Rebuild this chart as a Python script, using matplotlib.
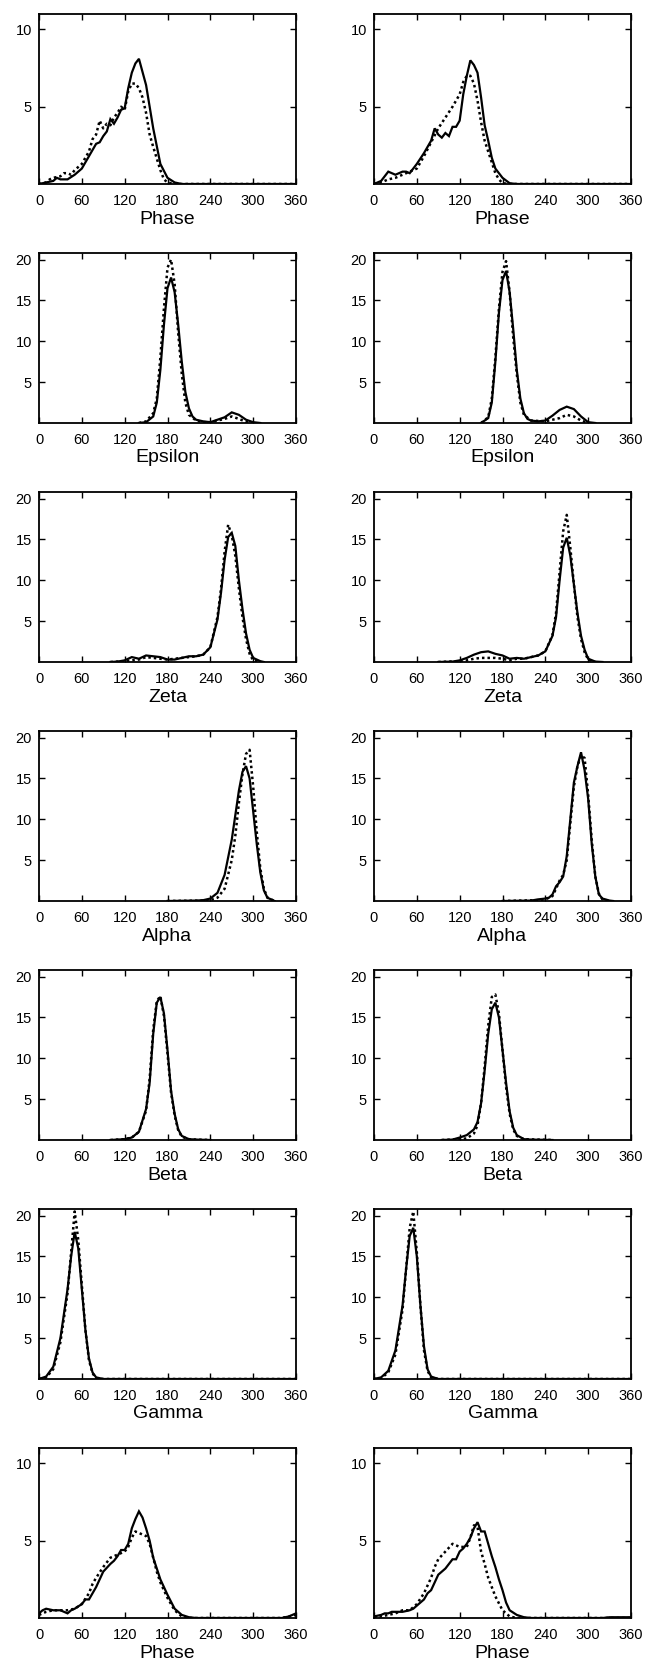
import matplotlib
matplotlib.use('Agg')
import matplotlib.pyplot as plt
import numpy as np

plt.rcParams['font.family'] = ['Liberation Sans', 'DejaVu Sans']

# ---- Row 1: Phase (left / right) ----
ph1_x_s = [0, 10, 20, 25, 30, 40, 50, 60, 70, 80, 85, 90, 95, 100, 105, 110, 115, 120, 125, 130, 135, 140, 150, 160, 170, 180, 190, 200, 360]
ph1_y_s = [0, 0.1, 0.2, 0.4, 0.3, 0.3, 0.6, 1.0, 1.8, 2.6, 2.7, 3.1, 3.4, 4.2, 3.9, 4.3, 4.8, 4.9, 6.2, 7.2, 7.8, 8.1, 6.4, 3.6, 1.3, 0.4, 0.1, 0, 0]
ph1_x_d = [0, 10, 15, 20, 30, 35, 40, 45, 50, 60, 70, 75, 80, 85, 90, 95, 100, 105, 110, 115, 120, 125, 130, 135, 140, 145, 150, 155, 160, 170, 175, 180, 190, 360]
ph1_y_d = [0, 0.1, 0.3, 0.4, 0.5, 0.7, 0.7, 0.6, 0.9, 1.3, 2.1, 2.9, 3.2, 4.1, 3.6, 3.9, 3.8, 4.3, 4.6, 5.0, 4.8, 6.0, 6.5, 6.5, 6.2, 5.6, 4.6, 3.2, 2.4, 0.9, 0.3, 0.1, 0, 0]

ph2_x_s = [0, 10, 20, 30, 35, 40, 45, 50, 60, 70, 75, 80, 85, 90, 95, 100, 105, 110, 115, 120, 125, 130, 135, 140, 145, 150, 155, 160, 165, 170, 180, 190, 200, 360]
ph2_y_s = [0, 0.2, 0.8, 0.6, 0.7, 0.8, 0.8, 0.7, 1.3, 2.0, 2.4, 2.8, 3.6, 3.2, 3.0, 3.3, 3.1, 3.7, 3.7, 4.1, 5.8, 7.0, 8.0, 7.7, 7.2, 5.6, 3.8, 2.8, 1.7, 1.0, 0.4, 0.05, 0, 0]
ph2_x_d = [0, 10, 20, 30, 40, 50, 60, 70, 80, 90, 100, 110, 120, 125, 130, 135, 140, 145, 150, 155, 160, 170, 175, 180, 190, 360]
ph2_y_d = [0, 0.1, 0.3, 0.4, 0.6, 0.8, 1.0, 1.8, 2.7, 3.6, 4.3, 5.0, 5.8, 6.6, 7.0, 7.0, 6.5, 5.4, 4.0, 2.8, 2.1, 0.7, 0.3, 0.05, 0, 0]

# ---- Row 2: Epsilon ----
ep1_x_s = [140, 150, 160, 165, 170, 175, 180, 185, 190, 195, 200, 205, 210, 215, 220, 230, 240, 250, 260, 270, 280, 290, 300, 310]
ep1_y_s = [0, 0.1, 0.8, 2.5, 6.5, 12, 16.5, 17.8, 16, 12, 7.5, 3.8, 1.8, 0.8, 0.4, 0.2, 0.1, 0.4, 0.7, 1.3, 1.0, 0.4, 0.1, 0]
ep1_x_d = [140, 150, 160, 165, 170, 175, 180, 185, 190, 195, 200, 205, 210, 220, 230, 240, 250, 260, 270, 280, 290, 300]
ep1_y_d = [0, 0.2, 1.2, 3, 8, 14, 19, 20, 17, 11, 6, 2.5, 1.0, 0.3, 0.1, 0.1, 0.3, 0.5, 0.8, 0.5, 0.15, 0]

ep2_x_s = [150, 160, 165, 170, 175, 180, 185, 190, 195, 200, 205, 210, 215, 220, 230, 240, 250, 260, 270, 280, 290, 300, 310]
ep2_y_s = [0, 0.6, 2.5, 7.5, 13.5, 17.5, 18.6, 16, 11.5, 6.5, 3, 1.2, 0.5, 0.3, 0.2, 0.3, 0.9, 1.6, 2.0, 1.7, 0.8, 0.1, 0]
ep2_x_d = [150, 160, 165, 170, 175, 180, 185, 190, 195, 200, 205, 210, 220, 240, 250, 260, 270, 280, 290, 300]
ep2_y_d = [0, 0.7, 3, 8, 14, 18.5, 19.8, 16, 10.5, 6, 2.5, 1.0, 0.3, 0.2, 0.4, 0.6, 1.0, 0.8, 0.3, 0]

# ---- Row 3: Zeta ----
ze1_x_s = [100, 110, 120, 130, 140, 150, 160, 170, 180, 190, 200, 210, 220, 230, 240, 250, 255, 260, 265, 270, 275, 280, 285, 290, 295, 300, 310, 315]
ze1_y_s = [0, 0.05, 0.2, 0.6, 0.4, 0.8, 0.7, 0.6, 0.3, 0.3, 0.5, 0.7, 0.7, 0.9, 1.8, 5.2, 8.5, 12.5, 15.3, 15.8, 14.2, 10, 6.5, 3.5, 1.5, 0.5, 0.1, 0]
ze1_x_d = [100, 120, 130, 140, 150, 160, 170, 180, 190, 200, 210, 220, 230, 240, 250, 255, 260, 265, 270, 275, 280, 285, 290, 295, 300, 310]
ze1_y_d = [0, 0.1, 0.2, 0.3, 0.6, 0.5, 0.4, 0.3, 0.4, 0.5, 0.6, 0.7, 0.9, 1.8, 5.5, 9, 13.5, 16.8, 15.5, 13, 9, 5.5, 2.8, 1.0, 0.2, 0]

ze2_x_s = [90, 110, 120, 130, 140, 150, 160, 170, 180, 190, 200, 210, 220, 230, 240, 250, 255, 260, 265, 270, 275, 280, 285, 290, 295, 300, 310, 320]
ze2_y_s = [0, 0.05, 0.2, 0.5, 0.9, 1.2, 1.3, 1.0, 0.8, 0.4, 0.5, 0.4, 0.6, 0.8, 1.3, 3.2, 5.5, 10, 14, 15.2, 13, 9.5, 6, 3.2, 1.5, 0.4, 0.05, 0]
ze2_x_d = [90, 120, 130, 140, 150, 160, 170, 180, 190, 200, 210, 220, 230, 240, 250, 255, 260, 265, 270, 275, 280, 285, 290, 295, 300, 310]
ze2_y_d = [0, 0.1, 0.2, 0.4, 0.5, 0.5, 0.5, 0.4, 0.2, 0.4, 0.4, 0.6, 0.8, 1.3, 3.3, 6, 11, 16, 18, 14, 9.5, 5.5, 2.8, 1.2, 0.3, 0]

# ---- Row 4: Alpha ----
al1_x_s = [180, 220, 230, 240, 250, 260, 270, 275, 280, 285, 290, 295, 300, 305, 310, 315, 320, 330]
al1_y_s = [0, 0.05, 0.1, 0.3, 1.0, 3.2, 7.5, 10.5, 13.5, 15.8, 16.5, 15, 11, 7, 3.5, 1.3, 0.4, 0]
al1_x_d = [180, 230, 240, 250, 260, 270, 275, 280, 285, 290, 295, 300, 305, 310, 315, 320, 330]
al1_y_d = [0, 0.05, 0.1, 0.4, 1.5, 5, 8, 12, 15.5, 18, 18.5, 14, 8.5, 4, 1.5, 0.4, 0]

al2_x_s = [180, 220, 230, 240, 245, 250, 255, 260, 265, 270, 275, 280, 285, 290, 295, 300, 305, 310, 315, 320, 330, 335]
al2_y_s = [0, 0.05, 0.2, 0.3, 0.4, 0.8, 1.8, 2.3, 3.0, 5.5, 10, 14.5, 16.5, 18.2, 16, 12.5, 7, 3, 0.8, 0.3, 0.05, 0]
al2_x_d = [180, 230, 240, 250, 255, 260, 265, 270, 275, 280, 285, 290, 295, 300, 305, 310, 315, 320, 330]
al2_y_d = [0, 0.1, 0.2, 0.6, 1.5, 2.5, 3.2, 5, 9.5, 14, 16.5, 17.8, 17.5, 13, 7.5, 3, 0.9, 0.2, 0]

# ---- Row 5: Beta ----
be1_x_s = [100, 110, 120, 130, 140, 150, 155, 160, 165, 170, 175, 180, 185, 190, 195, 200, 210, 220, 240]
be1_y_s = [0, 0.05, 0.1, 0.3, 1.0, 3.8, 7, 13, 16.8, 17.5, 15.5, 11, 6, 3.2, 1.3, 0.5, 0.1, 0.05, 0]
be1_x_d = [100, 110, 120, 130, 140, 150, 155, 160, 165, 170, 175, 180, 185, 190, 195, 200, 210, 220, 240]
be1_y_d = [0, 0.05, 0.1, 0.3, 1.0, 3.6, 7.5, 13.5, 17, 17.6, 15.2, 10.6, 5.8, 3.0, 1.2, 0.4, 0.1, 0.05, 0]

be2_x_s = [95, 110, 120, 130, 140, 145, 150, 155, 160, 165, 170, 175, 180, 185, 190, 195, 200, 210, 220, 250]
be2_y_s = [0, 0.05, 0.3, 0.6, 1.3, 2.2, 4.5, 8.5, 13, 16, 16.8, 15, 11, 7, 3.5, 1.5, 0.6, 0.1, 0.05, 0]
be2_x_d = [95, 120, 130, 140, 145, 150, 155, 160, 165, 170, 175, 180, 185, 190, 195, 200, 210, 250]
be2_y_d = [0, 0.1, 0.2, 0.8, 1.8, 4.5, 9, 14, 17.5, 17.8, 15.5, 11, 6.5, 3.2, 1.3, 0.5, 0.1, 0]

# ---- Row 6: Gamma ----
ga1_x_s = [0, 10, 20, 30, 40, 45, 50, 55, 60, 65, 70, 75, 80, 90, 360]
ga1_y_s = [0, 0.3, 1.5, 5, 11, 15, 18, 16, 11, 6, 2.5, 0.8, 0.2, 0, 0]
ga1_x_d = [0, 10, 20, 30, 40, 45, 50, 55, 60, 65, 70, 75, 80, 90, 360]
ga1_y_d = [0, 0.2, 1.2, 4.5, 10.5, 15.5, 20.5, 17, 11.5, 6, 2.3, 0.7, 0.1, 0, 0]

ga2_x_s = [0, 10, 20, 30, 40, 45, 50, 55, 60, 65, 70, 75, 80, 90, 360]
ga2_y_s = [0, 0.2, 1.0, 3.5, 9, 13.5, 17.5, 18.5, 15, 9, 4, 1.2, 0.3, 0, 0]
ga2_x_d = [0, 10, 20, 30, 40, 45, 50, 55, 60, 65, 70, 75, 80, 90, 360]
ga2_y_d = [0, 0.1, 0.8, 3, 8.5, 13.5, 18.5, 20.5, 15.5, 9, 3.5, 1.0, 0.2, 0, 0]

# ---- Row 7: Phase ----
ph3_x_s = [0, 5, 10, 20, 30, 35, 40, 45, 50, 60, 65, 70, 80, 90, 100, 105, 110, 115, 120, 125, 130, 135, 140, 145, 150, 155, 160, 165, 170, 175, 180, 190, 200, 210, 220, 340, 350, 355, 360]
ph3_y_s = [0.3, 0.5, 0.6, 0.5, 0.5, 0.4, 0.3, 0.5, 0.6, 0.9, 1.2, 1.2, 2.0, 3.0, 3.5, 3.7, 4.0, 4.4, 4.4, 4.8, 5.8, 6.4, 6.9, 6.5, 5.8, 5.0, 3.9, 3.2, 2.5, 2.0, 1.5, 0.6, 0.2, 0.05, 0, 0, 0.1, 0.2, 0.3]
ph3_x_d = [0, 10, 20, 30, 40, 50, 60, 70, 75, 80, 90, 100, 110, 120, 125, 130, 135, 140, 145, 150, 155, 160, 165, 170, 180, 190, 200, 210, 340, 350, 360]
ph3_y_d = [0.2, 0.4, 0.5, 0.5, 0.5, 0.6, 0.9, 1.6, 2.2, 2.6, 3.3, 3.9, 4.1, 4.3, 4.6, 5.2, 5.6, 5.5, 5.4, 5.3, 4.8, 3.9, 3.0, 2.3, 1.3, 0.5, 0.1, 0, 0, 0.1, 0.2]

ph4_x_s = [0, 10, 15, 20, 25, 30, 40, 50, 55, 60, 65, 70, 75, 80, 85, 90, 100, 105, 110, 115, 120, 125, 130, 135, 140, 145, 150, 155, 160, 165, 170, 175, 180, 185, 190, 200, 210, 220, 320, 330, 360]
ph4_y_s = [0.1, 0.2, 0.3, 0.3, 0.4, 0.4, 0.4, 0.5, 0.6, 0.8, 1.0, 1.2, 1.6, 1.8, 2.3, 2.8, 3.2, 3.5, 3.8, 3.8, 4.3, 4.5, 4.8, 5.2, 5.8, 6.2, 5.6, 5.6, 4.8, 4.0, 3.3, 2.5, 1.8, 1.0, 0.5, 0.2, 0.05, 0, 0, 0.05, 0.05]
ph4_x_d = [0, 10, 20, 30, 40, 50, 60, 70, 80, 85, 90, 100, 110, 115, 120, 125, 130, 135, 140, 145, 150, 155, 160, 170, 180, 190, 200, 360]
ph4_y_d = [0.05, 0.1, 0.2, 0.3, 0.5, 0.5, 0.9, 1.6, 2.6, 3.3, 3.8, 4.3, 4.8, 4.7, 4.6, 4.6, 4.6, 5.2, 6.0, 5.9, 4.3, 3.5, 2.6, 1.4, 0.5, 0.1, 0, 0]

panels = [
    ('Phase', 11.0, [5, 10], (ph1_x_s, ph1_y_s, ph1_x_d, ph1_y_d), (ph2_x_s, ph2_y_s, ph2_x_d, ph2_y_d)),
    ('Epsilon', 20.8, [5, 10, 15, 20], (ep1_x_s, ep1_y_s, ep1_x_d, ep1_y_d), (ep2_x_s, ep2_y_s, ep2_x_d, ep2_y_d)),
    ('Zeta', 20.8, [5, 10, 15, 20], (ze1_x_s, ze1_y_s, ze1_x_d, ze1_y_d), (ze2_x_s, ze2_y_s, ze2_x_d, ze2_y_d)),
    ('Alpha', 20.8, [5, 10, 15, 20], (al1_x_s, al1_y_s, al1_x_d, al1_y_d), (al2_x_s, al2_y_s, al2_x_d, al2_y_d)),
    ('Beta', 20.8, [5, 10, 15, 20], (be1_x_s, be1_y_s, be1_x_d, be1_y_d), (be2_x_s, be2_y_s, be2_x_d, be2_y_d)),
    ('Gamma', 20.8, [5, 10, 15, 20], (ga1_x_s, ga1_y_s, ga1_x_d, ga1_y_d), (ga2_x_s, ga2_y_s, ga2_x_d, ga2_y_d)),
    ('Phase', 11.0, [5, 10], (ph3_x_s, ph3_y_s, ph3_x_d, ph3_y_d), (ph4_x_s, ph4_y_s, ph4_x_d, ph4_y_d)),
]

W, H = 651, 1669
fig = plt.figure(figsize=(W / 100, H / 100), dpi=100)

lefts = [39, 374]
axw, axh = 257, 170

for r, (name, ymax, yt, left_data, right_data) in enumerate(panels):
    top = 14 + 239 * r
    for c, d in enumerate([left_data, right_data]):
        ax = fig.add_axes([lefts[c] / W, 1 - (top + axh) / H, axw / W, axh / H])
        xs, ys, xd, yd = d
        ax.plot(xs, ys, color='black', lw=1.6, solid_joinstyle='miter')
        ax.plot(xd, yd, color='black', lw=1.8, linestyle=(0, (1, 1.2)))
        ax.set_xlim(0, 360)
        ax.set_ylim(0, ymax)
        ax.set_xticks(range(0, 361, 60))
        ax.set_yticks(yt)
        ax.tick_params(direction='in', top=True, right=True, length=4, width=1,
                       labelsize=10.5, pad=7)
        ax.tick_params(axis='y', pad=5)
        for s in ax.spines.values():
            s.set_linewidth(1.3)
        ax.set_xlabel(name, fontsize=14, labelpad=2)

fig.savefig('out.png', dpi=100)
